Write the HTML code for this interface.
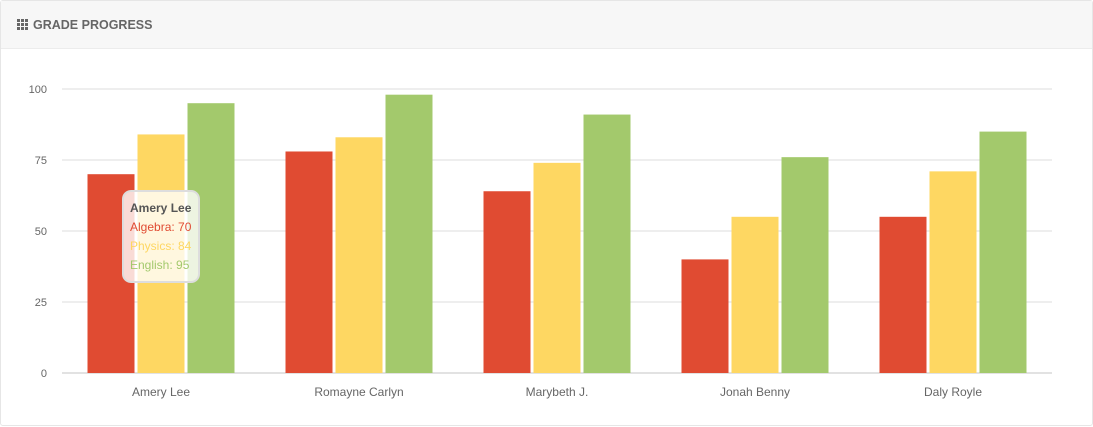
<!DOCTYPE html>
<html><head><meta charset="utf-8">
<style>
body{margin:0;width:1093px;height:427px;background:#fff;font-family:"Liberation Sans",sans-serif;overflow:hidden}
.card{position:absolute;left:0;top:0;width:1091px;height:424px;border:1px solid #e6e6e6;border-radius:3px}
.hdr{height:47px;background:#f7f7f7;border-bottom:1px solid #ececec;position:relative}
.hdr span{position:absolute;left:32px;top:17px;font-size:12.5px;font-weight:bold;color:#666}
.icon{position:absolute;left:16px;top:18px;width:12px;height:12px}
svg{position:absolute;left:0;top:0}
</style></head><body>
<div class="card">
<div class="hdr">
<svg class="icon" style="left:16px;top:18px" width="12" height="12">
<g fill="#666"><rect x="0" y="0" width="3" height="3"/><rect x="4" y="0" width="3" height="3"/><rect x="8" y="0" width="3" height="3"/><rect x="0" y="4" width="3" height="3"/><rect x="4" y="4" width="3" height="3"/><rect x="8" y="4" width="3" height="3"/><rect x="0" y="8" width="3" height="3"/><rect x="4" y="8" width="3" height="3"/><rect x="8" y="8" width="3" height="3"/></g></svg>
<span>GRADE PROGRESS</span>
</div>
</div>
<svg id="chart" width="1093" height="427"></svg>
<script>
const categories=["Amery Lee","Romayne Carlyn","Marybeth J.","Jonah Benny","Daly Royle"];
const algebra=[70,78,64,40,55];
const physics=[84,83,74,55,71];
const english=[95,98,91,76,85];
const yTicks=[0,25,50,75,100];
const seriesNames=["Algebra","Physics","English"];
const colors=["#e04b32","#fed762","#a3c96c"];
const series=[algebra,physics,english];
const svg=document.getElementById('chart');
const NS='http://www.w3.org/2000/svg';
const x0=62,x1=1052,yBase=373,yTop=89;
const y=v=>yBase-(v/100)*(yBase-yTop);
const gw=(x1-x0)/categories.length;
function mk(t,a){const e=document.createElementNS(NS,t);for(const k in a)e.setAttribute(k,a[k]);svg.appendChild(e);return e;}
yTicks.forEach(t=>{
 const l=mk('line',{x1:x0,x2:x1,y1:y(t),y2:y(t),stroke:t===0?'#d8d8d8':'#e4e4e4','stroke-width':t===0?1.5:1.2});
 
 
 const tx=mk('text',{x:47,y:y(t)+4,'text-anchor':'end','font-size':11,fill:'#666','font-family':'Liberation Sans, sans-serif'});
 tx.textContent=t;
 
 
});
const bw=47,gap=3;
categories.forEach((c,i)=>{
 const start=x0+i*gw+(gw-(3*bw+2*gap))/2;
 series.forEach((s,j)=>{
  const r=mk('rect',{x:start+j*(bw+gap),y:y(s[i]),width:bw,height:yBase-y(s[i]),fill:colors[j]});
  
  
 });
 const tx=mk('text',{x:x0+i*gw+gw/2,y:396,'text-anchor':'middle','font-size':12,fill:'#666','font-family':'Liberation Sans, sans-serif'});
 tx.textContent=c;
 
 
});
// tooltip for first category
const tg=document.createElementNS(NS,'g');svg.appendChild(tg);


const tr=document.createElementNS(NS,'rect');
[['x',123],['y',191],['width',76],['height',91],['rx',8],['fill','rgba(255,255,255,0.8)'],['stroke','#ddd'],['stroke-width',2]].forEach(a=>tr.setAttribute(a[0],a[1]));
tg.appendChild(tr);
const lines=[[categories[0],'#555',true]].concat(seriesNames.map((n,j)=>[n+': '+series[j][0],colors[j],false]));
lines.forEach((l,k)=>{
 const t=document.createElementNS(NS,'text');
 t.setAttribute('x',130);t.setAttribute('y',212+k*19);
 t.setAttribute('font-size',12);t.setAttribute('fill',l[1]);
 t.setAttribute('font-family','Liberation Sans, sans-serif');
 if(l[2])t.setAttribute('font-weight','bold');
 t.textContent=l[0];
 
 
 tg.appendChild(t);
});
</script>
</body></html>
